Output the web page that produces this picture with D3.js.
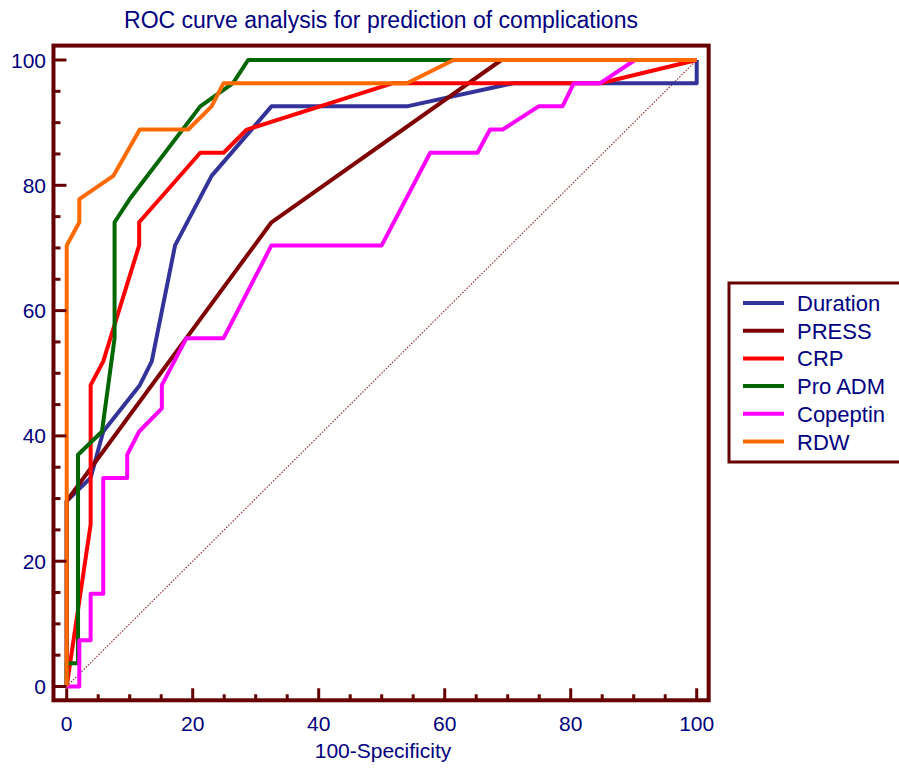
<!DOCTYPE html>
<meta charset="utf-8">
<head>
  <title>ROC curves</title>
  <style>
    body {
      margin: 0;
      background: #fff;
      font-family: "Liberation Sans", Arial, sans-serif;
    }
    text { fill: #000080; }
  </style>
  <script src="https://d3js.org/d3.v7.min.js"></script>
</head>
<body>
  <svg id="chart" width="899" height="768"></svg>

  <script>
// one list of [100-specificity, sensitivity] points per marker
var duration = [[0, 0], [0, 29.6], [3.8, 33.3], [5.8, 40.7], [11.6, 48.1], [13.5, 51.9], [17.2, 70.4],
  [23, 81.5], [32.5, 92.6], [54, 92.6], [70.9, 96.3], [100, 96.3], [100, 100]];
var press = [[0, 0], [0, 29.6], [32.5, 74.1], [69, 100], [100, 100]];
var crp = [[0, 0], [3.8, 25.9], [3.8, 48.1], [5.8, 51.9], [11.5, 70.4], [11.5, 74.1], [21.2, 85.2],
  [24.9, 85.2], [28.6, 88.9], [51.8, 96.3], [84.7, 96.3], [100, 100]];
var proAdm = [[0, 0], [0, 3.7], [1.8, 3.7], [1.8, 37], [5.6, 40.7], [7.6, 55.6], [7.6, 74.1], [10, 77.8],
  [21.2, 92.6], [26.4, 96.3], [28.8, 100], [100, 100]];
var copeptin = [[0, 0], [2, 0], [2, 7.4], [3.8, 7.4], [3.8, 14.8], [5.8, 14.8], [5.8, 33.3], [9.6, 33.3],
  [9.6, 37], [11.5, 40.7], [15.1, 44.4], [15.1, 48.1], [19, 55.6], [24.9, 55.6], [32.5, 70.4], [50, 70.4],
  [57.7, 85.2], [65.2, 85.2], [67.2, 88.9], [69.2, 88.9], [74.9, 92.6], [78.7, 92.6], [80.5, 96.3],
  [84.7, 96.3], [90.2, 100], [100, 100]];
var rdw = [[0, 0], [0, 70.4], [2, 74.1], [2, 77.8], [7.4, 81.5], [11.6, 88.9], [19.3, 88.9], [23, 92.6],
  [24.9, 96.3], [54, 96.3], [61.4, 100], [100, 100]];

var seriesNames = ["Duration", "PRESS", "CRP", "Pro ADM", "Copeptin", "RDW"];
var seriesColors = ["#333399", "#800000", "#ff0000", "#006600", "#ff00ff", "#ff6a00"];
var seriesData = [duration, press, crp, proAdm, copeptin, rdw];

var majorTicks = [0, 20, 40, 60, 80, 100];
var minorTicks = d3.range(0, 101, 5).filter(function(v) { return v % 20 !== 0; });

var svg = d3.select("#chart");
var frameColor = "#660000";

var x = d3.scaleLinear().domain([0, 100]).range([66.7, 696.7]);
var y = d3.scaleLinear().domain([0, 100]).range([686.5, 60]);

// frame sits a bit outside the 0..100 range
var fLeft = x(-2.1), fRight = x(101.9), fTop = y(102.3), fBottom = y(-2.2);

// diagonal reference line
svg.append("line")
  .attr("x1", x(0)).attr("y1", y(0))
  .attr("x2", x(100)).attr("y2", y(100))
  .attr("stroke", "#993333")
  .attr("stroke-width", 1.2)
  .attr("stroke-dasharray", "1.5,1.5");

var line = d3.line()
  .x(function(d) { return x(d[0]); })
  .y(function(d) { return y(d[1]); });

svg.selectAll("path.roc")
  .data(seriesData)
  .enter()
  .append("path")
  .attr("class", "roc")
  .attr("d", line)
  .attr("fill", "none")
  .attr("stroke", function(d, i) { return seriesColors[i]; })
  .attr("stroke-width", 4)
  .attr("stroke-linejoin", "round");

// frame
svg.append("rect")
  .attr("x", fLeft).attr("y", fTop)
  .attr("width", fRight - fLeft).attr("height", fBottom - fTop)
  .attr("fill", "none")
  .attr("stroke", frameColor)
  .attr("stroke-width", 4);

// ticks (pointing inward)
var g = svg.append("g").attr("stroke", frameColor).attr("stroke-width", 3);
g.selectAll("line.ymaj").data(majorTicks).enter().append("line")
  .attr("x1", fLeft).attr("x2", fLeft + 13)
  .attr("y1", y).attr("y2", y);
g.selectAll("line.ymin").data(minorTicks).enter().append("line")
  .attr("x1", fLeft).attr("x2", fLeft + 7)
  .attr("y1", y).attr("y2", y);
g.selectAll("line.xmaj").data(majorTicks).enter().append("line")
  .attr("y1", fBottom).attr("y2", fBottom - 12)
  .attr("x1", x).attr("x2", x);
g.selectAll("line.xmin").data(minorTicks).enter().append("line")
  .attr("y1", fBottom).attr("y2", fBottom - 6)
  .attr("x1", x).attr("x2", x);

// tick labels
svg.selectAll("text.ylab").data(majorTicks).enter().append("text")
  .attr("x", 46)
  .attr("y", function(d) { return y(d) + 7.5; })
  .attr("text-anchor", "end")
  .attr("font-size", 21)
  .text(function(d) { return d; });
svg.selectAll("text.xlab").data(majorTicks).enter().append("text")
  .attr("x", x)
  .attr("y", 731)
  .attr("text-anchor", "middle")
  .attr("font-size", 21)
  .text(function(d) { return d; });

// titles
svg.append("text")
  .attr("x", 381).attr("y", 28)
  .attr("text-anchor", "middle")
  .attr("font-size", 23)
  .text("ROC curve analysis for prediction of complications");
svg.append("text")
  .attr("x", 383).attr("y", 758)
  .attr("text-anchor", "middle")
  .attr("font-size", 21)
  .text("100-Specificity");

// legend
var legend = svg.append("g").attr("transform", "translate(729,283)");
legend.append("rect")
  .attr("width", 190).attr("height", 179)
  .attr("fill", "#fff")
  .attr("stroke", frameColor)
  .attr("stroke-width", 3);
var rows = legend.selectAll("g.row").data(seriesNames).enter().append("g")
  .attr("transform", function(d, i) { return "translate(0," + (20 + i * 27.7) + ")"; });
rows.append("line")
  .attr("x1", 14).attr("x2", 55)
  .attr("stroke", function(d, i) { return seriesColors[i]; })
  .attr("stroke-width", 4);
rows.append("text")
  .attr("x", 68).attr("y", 8)
  .attr("font-size", 22)
  .text(function(d) { return d; });
  </script>
</body>
</html>
